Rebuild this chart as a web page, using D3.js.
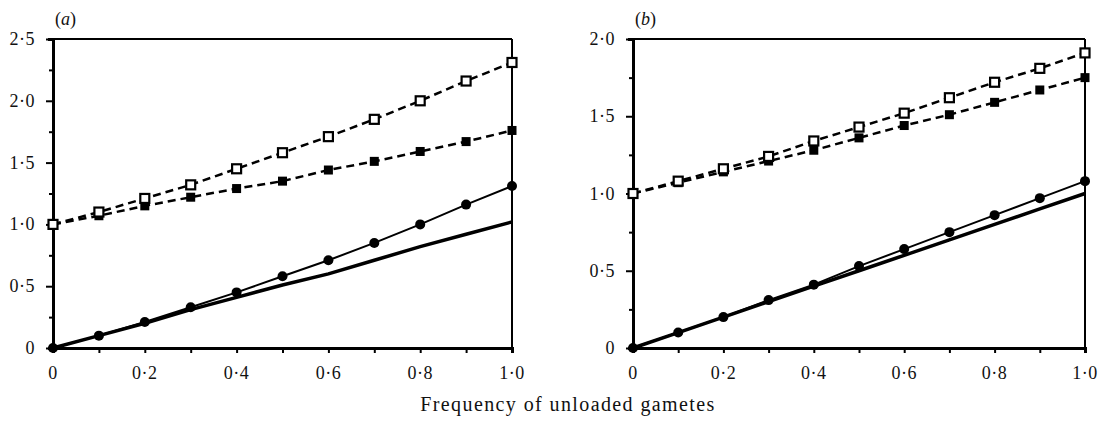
<!DOCTYPE html>
<html>
<head>
<meta charset="utf-8">
<script src="https://cdn.jsdelivr.net/npm/d3@7"></script>
<style>
  body { margin: 0; background: #fff; }
  text { font-family: "Liberation Serif", "DejaVu Serif", serif; fill: #111; }
</style>
</head>
<body>
<script>
// x values shared by all series
const freq = [0, 0.1, 0.2, 0.3, 0.4, 0.5, 0.6, 0.7, 0.8, 0.9, 1.0];

// panel (a)
const aOpen   = [1.0, 1.10, 1.21, 1.32, 1.45, 1.58, 1.71, 1.85, 2.00, 2.16, 2.31];
const aFilled = [1.0, 1.07, 1.15, 1.22, 1.29, 1.35, 1.44, 1.51, 1.59, 1.67, 1.76];
const aCircle = [0, 0.10, 0.21, 0.33, 0.45, 0.58, 0.71, 0.85, 1.00, 1.16, 1.31];
const aThick  = [0, 0.10, 0.20, 0.31, 0.41, 0.51, 0.60, 0.71, 0.82, 0.92, 1.02];

// panel (b)
const bOpen   = [1.0, 1.08, 1.16, 1.24, 1.34, 1.43, 1.52, 1.62, 1.72, 1.81, 1.91];
const bFilled = [1.0, 1.07, 1.14, 1.21, 1.28, 1.36, 1.44, 1.51, 1.59, 1.67, 1.75];
const bCircle = [0, 0.10, 0.20, 0.31, 0.41, 0.53, 0.64, 0.75, 0.86, 0.97, 1.08];
const bThick  = [0, 0.10, 0.20, 0.30, 0.40, 0.50, 0.60, 0.70, 0.80, 0.90, 1.00];

const xTicks = [0, 0.2, 0.4, 0.6, 0.8, 1.0];
const xTickLabels = ["0", "0·2", "0·4", "0·6", "0·8", "1·0"];
const aYTicks = [0, 0.5, 1.0, 1.5, 2.0, 2.5];
const aYLabels = ["0", "0·5", "1·0", "1·5", "2·0", "2·5"];
const bYTicks = [0, 0.5, 1.0, 1.5, 2.0];
const bYLabels = ["0", "0·5", "1·0", "1·5", "2·0"];

const W = 1101, H = 421;
const svg = d3.select("body").append("svg")
    .attr("width", W)
    .attr("height", H);

function panel(opts) {
    const x = d3.scaleLinear().domain([0, 1]).range([opts.left, opts.right]);
    const y = d3.scaleLinear().domain([0, opts.ymax]).range([opts.bottom, opts.top]);
    const g = svg.append("g");

    // frame: top and right thinner
    g.append("line").attr("x1", x(0)).attr("x2", x(1)).attr("y1", y(opts.ymax)).attr("y2", y(opts.ymax))
        .attr("stroke", "#000").attr("stroke-width", 2);
    g.append("line").attr("x1", x(1)).attr("x2", x(1)).attr("y1", y(opts.ymax)).attr("y2", y(0))
        .attr("stroke", "#000").attr("stroke-width", 2);

    // y axis with minor ticks
    const yAxis = d3.axisLeft(y)
        .tickValues(d3.range(0, opts.ymax + 0.001, 0.25))
        .tickSize(5)
        .tickFormat("");
    const ya = g.append("g").attr("transform", `translate(${x(0)},0)`).call(yAxis);
    ya.select(".domain").attr("stroke-width", 3);
    ya.selectAll(".tick line").attr("stroke-width", 2)
        .attr("x2", d => (Math.abs(d / 0.5 - Math.round(d / 0.5)) < 1e-6) ? -7 : -4);

    // y labels
    g.selectAll(".ylab").data(opts.yTicks).enter().append("text")
        .attr("x", x(0) - 18)
        .attr("y", d => y(d) + 6)
        .attr("text-anchor", "end")
        .style("font-size", "18px")
        .style("letter-spacing", "0.5px")
        .text((d, i) => opts.yLabels[i]);

    // x axis
    const xAxis = d3.axisBottom(x)
        .tickValues(freq)
        .tickSize(5)
        .tickFormat("");
    const xa = g.append("g").attr("transform", `translate(0,${y(0)})`).call(xAxis);
    xa.select(".domain").attr("stroke-width", 3);
    xa.selectAll(".tick line").attr("stroke-width", 2);

    g.selectAll(".xlab").data(xTicks).enter().append("text")
        .attr("x", d => x(d))
        .attr("y", y(0) + 31)
        .attr("text-anchor", "middle")
        .style("font-size", "18px")
        .style("letter-spacing", "0.5px")
        .text((d, i) => xTickLabels[i]);

    // panel label
    g.append("text")
        .attr("x", x(0) + 2)
        .attr("y", 25)
        .style("font-size", "18px")
        .html('(<tspan font-style="italic">' + opts.name + '</tspan>)');

    const line = d3.line().x((d, i) => x(freq[i])).y(d => y(d));

    // thick reference line
    g.append("path").datum(opts.thick).attr("d", line)
        .attr("fill", "none").attr("stroke", "#000").attr("stroke-width", 3.5);

    // thin line with filled circles
    g.append("path").datum(opts.circle).attr("d", line)
        .attr("fill", "none").attr("stroke", "#000").attr("stroke-width", 2);
    g.selectAll(".circ").data(opts.circle).enter().append("circle")
        .attr("cx", (d, i) => x(freq[i])).attr("cy", d => y(d)).attr("r", 5)
        .attr("fill", "#000");

    // dashed lines
    [opts.filled, opts.open].forEach(function (s) {
        g.append("path").datum(s).attr("d", line)
            .attr("fill", "none").attr("stroke", "#000").attr("stroke-width", 2.5)
            .attr("stroke-dasharray", "8,5");
    });

    g.selectAll(".fsq").data(opts.filled).enter().append("rect")
        .attr("x", (d, i) => x(freq[i]) - 4.5).attr("y", d => y(d) - 4.5)
        .attr("width", 9).attr("height", 9).attr("fill", "#000");

    g.selectAll(".osq").data(opts.open).enter().append("rect")
        .attr("x", (d, i) => x(freq[i]) - 4.5).attr("y", d => y(d) - 4.5)
        .attr("width", 9).attr("height", 9)
        .attr("fill", "#fff").attr("stroke", "#000").attr("stroke-width", 2.2);
}

panel({ name: "a", left: 53, right: 512, top: 39, bottom: 348, ymax: 2.5,
        yTicks: aYTicks, yLabels: aYLabels,
        open: aOpen, filled: aFilled, circle: aCircle, thick: aThick });

panel({ name: "b", left: 633, right: 1085, top: 39, bottom: 348, ymax: 2.0,
        yTicks: bYTicks, yLabels: bYLabels,
        open: bOpen, filled: bFilled, circle: bCircle, thick: bThick });

svg.append("text")
    .attr("x", 568)
    .attr("y", 411)
    .attr("text-anchor", "middle")
    .style("font-size", "20px")
    .style("letter-spacing", "1.4px")
    .text("Frequency of unloaded gametes");
</script>
</body>
</html>
